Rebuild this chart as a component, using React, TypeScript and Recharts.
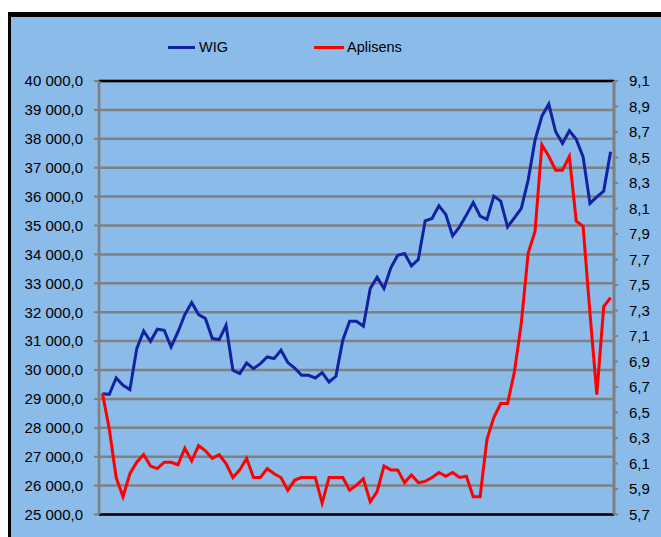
import React from 'react';
import { LineChart, Line, XAxis, YAxis, CartesianGrid, ReferenceLine } from 'recharts';

const wig = [
  29182, 29158, 29723, 29470, 29321, 30741, 31351, 30994, 31410, 31375,
  30797, 31317, 31918, 32334, 31918, 31780, 31087, 31053, 31548, 29990,
  29875, 30243, 30048, 30221, 30450, 30395, 30683, 30257, 30069, 29816,
  29816, 29723, 29910, 29584, 29782, 31029, 31687, 31687, 31514, 32820,
  33211, 32820, 33533, 33973, 34032, 33602, 33824, 35161, 35244, 35681,
  35383, 34642, 34953, 35359, 35798, 35324, 35210, 36017, 35843, 34953,
  35265, 35591, 36571, 37956, 38788, 39203, 38244, 37842, 38279, 37981,
  37378, 35764, 35992, 36190, 37551,
];

const aplisens = [
  6.65, 6.37, 5.99, 5.84, 6.02, 6.11, 6.17, 6.08, 6.06, 6.11,
  6.11, 6.09, 6.22, 6.12, 6.24, 6.2, 6.14, 6.17, 6.1, 5.99,
  6.05, 6.14, 5.99, 5.99, 6.06, 6.02, 5.99, 5.89, 5.97, 5.99,
  5.99, 5.99, 5.79, 5.99, 5.99, 5.99, 5.89, 5.93, 5.98, 5.8,
  5.88, 6.08, 6.05, 6.05, 5.95, 6.01, 5.95, 5.96, 5.99, 6.03,
  6.0, 6.03, 5.99, 6.0, 5.84, 5.84, 6.29, 6.46, 6.57, 6.57,
  6.82, 7.2, 7.75, 7.92, 8.6, 8.51, 8.4, 8.4, 8.51, 8.0,
  7.96, 7.28, 6.64, 7.33, 7.4,
];

const leftTicks = [
  25000, 26000, 27000, 28000, 29000, 30000, 31000, 32000,
  33000, 34000, 35000, 36000, 37000, 38000, 39000, 40000,
];

const rightTicks = [
  5.7, 5.9, 6.1, 6.3, 6.5, 6.7, 6.9, 7.1, 7.3, 7.5,
  7.7, 7.9, 8.1, 8.3, 8.5, 8.7, 8.9, 9.1,
];

const seriesNames = ['WIG', 'Aplisens'];

const data = wig.map((w, i) => ({ day: i + 1, wig: w, aplisens: aplisens[i] }));

const fmtLeft = (v: number) => {
  const th = Math.floor(v / 1000);
  const rest = String(Math.round(v % 1000)).padStart(3, '0');
  return `${th} ${rest},0`;
};
const fmtRight = (v: number) => v.toFixed(1).replace('.', ',');

const FONT = '"Liberation Sans", Arial, sans-serif';
const BLUE = '#1222A2';
const RED = '#FF0000';
const GRID = '#808080';

export default function App() {
  return (
    <div
      style={{
        position: 'absolute',
        left: 0,
        top: 0,
        width: 661,
        height: 537,
        background: '#ffffff',
        overflow: 'hidden',
        fontFamily: FONT,
      }}
    >
      <div
        style={{
          position: 'absolute',
          left: 8,
          top: 12,
          width: 653,
          height: 525,
          background: '#8BBBE9',
          borderTop: '5px solid #000',
          borderLeft: '3.5px solid #000',
          boxSizing: 'border-box',
        }}
      />
      <div style={{ position: 'absolute', left: 168, top: 45.5, width: 27, height: 3, background: BLUE }} />
      <div style={{ position: 'absolute', left: 199, top: 38, lineHeight: '18px', fontSize: 14.5, color: '#000' }}>
        {seriesNames[0]}
      </div>
      <div style={{ position: 'absolute', left: 314, top: 45.5, width: 30, height: 3, background: RED }} />
      <div style={{ position: 'absolute', left: 347, top: 38, lineHeight: '18px', fontSize: 14.5, color: '#000' }}>
        {seriesNames[1]}
      </div>
      <div style={{ position: 'absolute', left: 0, top: 0 }}>
        <LineChart width={661} height={537} data={data} margin={{ top: 81, right: 0, bottom: 0, left: 0 }}>
          <CartesianGrid yAxisId="left" vertical={false} stroke={GRID} strokeWidth={2.5} />
          <XAxis
            dataKey="day"
            tick={false}
            tickLine={false}
            axisLine={{ stroke: '#000', strokeWidth: 2.5 }}
            height={22.5}
            padding={{ left: 3.43, right: 3.43 }}
          />
          <YAxis
            yAxisId="left"
            domain={[25000, 40000]}
            ticks={leftTicks}
            interval={0}
            width={99}
            tickSize={5}
            tickMargin={11}
            tickFormatter={fmtLeft}
            axisLine={{ stroke: GRID, strokeWidth: 2.7 }}
            tickLine={{ stroke: GRID, strokeWidth: 2 }}
            tick={{ fill: '#000', fontSize: 15, fontFamily: FONT }}
          />
          <YAxis
            yAxisId="right"
            orientation="right"
            domain={[5.7, 9.1]}
            ticks={rightTicks}
            interval={0}
            width={47}
            tickSize={4}
            tickMargin={11}
            tickFormatter={fmtRight}
            axisLine={{ stroke: GRID, strokeWidth: 3 }}
            tickLine={{ stroke: GRID, strokeWidth: 2 }}
            tick={{ fill: '#000', fontSize: 15, fontFamily: FONT }}
          />
          <ReferenceLine yAxisId="left" y={40000} stroke="#000" strokeWidth={2.5} />
          <Line
            yAxisId="left"
            type="linear"
            dataKey="wig"
            stroke={BLUE}
            strokeWidth={3}
            dot={false}
            isAnimationActive={false}
          />
          <Line
            yAxisId="right"
            type="linear"
            dataKey="aplisens"
            stroke={RED}
            strokeWidth={3}
            dot={false}
            isAnimationActive={false}
          />
        </LineChart>
      </div>
    </div>
  );
}
